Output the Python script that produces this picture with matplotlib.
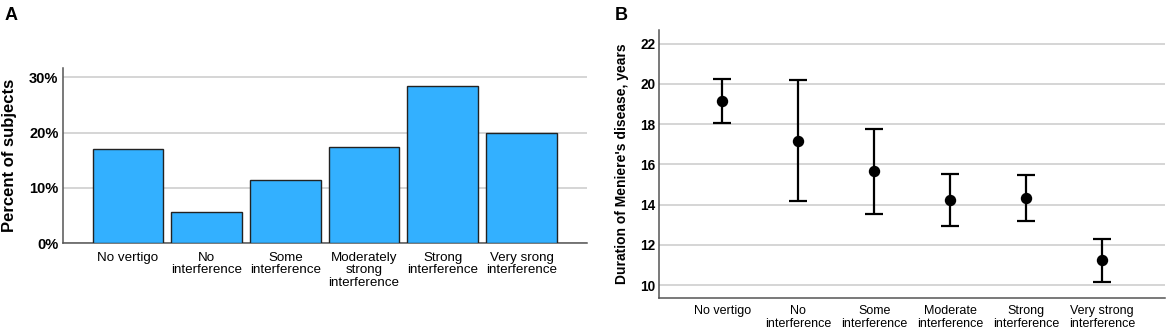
import matplotlib
matplotlib.use("Agg")
import matplotlib.pyplot as plt
import numpy as np

plt.rcParams["font.family"] = ["Liberation Sans", "DejaVu Sans"]

# panel A data
bar_labels = ["No vertigo", "No\ninterference", "Some\ninterference",
              "Moderately\nstrong\ninterference", "Strong\ninterference",
              "Very srong\ninterference"]
percent_subjects = [17.0, 5.7, 11.5, 17.3, 28.4, 19.9]
pct_ticks = [0, 10, 20, 30]

# panel B data
err_labels = ["No vertigo", "No\ninterference", "Some\ninterference",
              "Moderate\ninterference", "Strong\ninterference",
              "Very strong\ninterference"]
duration_mean = [19.17, 17.18, 15.65, 14.24, 14.31, 11.24]
duration_low = [18.05, 14.16, 13.56, 12.95, 13.17, 10.17]
duration_high = [20.24, 20.21, 17.77, 15.54, 15.47, 12.30]
dur_ticks = [10, 12, 14, 16, 18, 20, 22]

BAR_COLOR = "#33b0ff"
GRID_COLOR = "#d2d2d2"
SPINE_COLOR = "#555555"


def style_axes(ax):
    ax.spines["top"].set_visible(False)
    ax.spines["right"].set_visible(False)
    for s in ("left", "bottom"):
        ax.spines[s].set_color(SPINE_COLOR)
        ax.spines[s].set_linewidth(1.1)
    ax.tick_params(axis="both", length=0)
    ax.yaxis.grid(True, color=GRID_COLOR, linewidth=1.3)
    ax.set_axisbelow(True)


fig = plt.figure(figsize=(11.7, 3.31), dpi=100)

# ---- A ----
ax1 = fig.add_axes([0.0536, 0.265, 0.4479, 0.5287])
x = np.arange(len(bar_labels))
ax1.bar(x, percent_subjects, width=0.9, color=BAR_COLOR,
        edgecolor="#222222", linewidth=1.0, zorder=3)
style_axes(ax1)
ax1.set_xlim(-0.83, 5.83)
ax1.set_ylim(0, 31.6)
ax1.set_yticks(pct_ticks)
ax1.set_yticklabels([f"{t}%" for t in pct_ticks], fontsize=10.5,
                    fontweight="bold")
ax1.set_xticks(x)
ax1.set_xticklabels(bar_labels, fontsize=9.6, linespacing=1.08)
ax1.tick_params(axis="x", pad=6)
ax1.tick_params(axis="y", pad=3)
ax1.set_ylabel("Percent of subjects", fontsize=12, fontweight="bold",
               labelpad=9)
fig.text(0.004, 0.979, "A", fontsize=13, fontweight="bold", va="top")

# ---- B ----
ax2 = fig.add_axes([0.5635, 0.0988, 0.4322, 0.8106])
x2 = np.arange(len(err_labels))
mean = np.array(duration_mean)
yerr = [mean - np.array(duration_low), np.array(duration_high) - mean]
ax2.errorbar(x2, mean, yerr=yerr, fmt="o", color="black", markersize=7.2,
             elinewidth=1.6, capsize=6.7, capthick=1.6, zorder=3)
style_axes(ax2)
ax2.set_xlim(-0.83, 5.83)
ax2.set_ylim(9.35, 22.68)
ax2.set_yticks(dur_ticks)
ax2.set_yticklabels([str(t) for t in dur_ticks], fontsize=9.8,
                    fontweight="bold")
ax2.set_xticks(x2)
ax2.set_xticklabels(err_labels, fontsize=9.0, linespacing=1.08)
ax2.tick_params(axis="x", pad=5)
ax2.tick_params(axis="y", pad=3)
ax2.set_ylabel("Duration of Meniere's disease, years", fontsize=10,
               fontweight="bold", labelpad=8)
fig.text(0.5256, 0.979, "B", fontsize=13, fontweight="bold", va="top")

fig.savefig("out.png", dpi=100)
